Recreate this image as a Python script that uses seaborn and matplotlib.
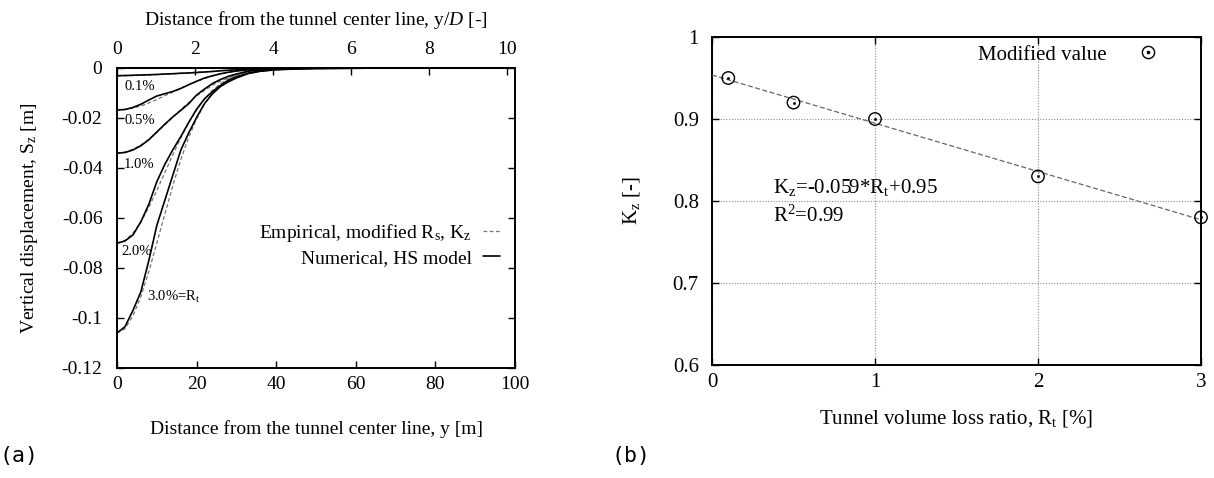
import numpy as np
import matplotlib
matplotlib.use("Agg")
import matplotlib.pyplot as plt
from matplotlib.lines import Line2D
from matplotlib.legend_handler import HandlerTuple
import seaborn as sns

# ---------------------------------------------------------------------------
# (a) Settlement troughs: horizontal distance [m] and vertical displacement [m]
# ---------------------------------------------------------------------------
dist_m = [0, 2, 4, 6, 8, 10, 12, 14, 16, 18, 20, 22, 24, 26, 28, 30,
          33, 36, 40, 45, 50, 60, 70, 80, 90, 100]

# Numerical results, HS model
num_01 = [-0.0031, -0.0030, -0.0029, -0.0028, -0.0027, -0.0026, -0.0024, -0.0023,
          -0.0021, -0.0020, -0.0018, -0.0016, -0.0014, -0.0011, -0.0009, -0.0007,
          -0.0005, -0.0003, -0.0002, -0.0001, 0, 0, 0, 0, 0, 0]
num_05 = [-0.0168, -0.0166, -0.0158, -0.0145, -0.0128, -0.0112, -0.0103, -0.0094,
          -0.0082, -0.0067, -0.0053, -0.0040, -0.0031, -0.0023, -0.0017, -0.0012,
          -0.0007, -0.0004, -0.0002, -0.0001, 0, 0, 0, 0, 0, 0]
num_10 = [-0.0341, -0.0338, -0.0328, -0.0311, -0.0287, -0.0256, -0.0225, -0.0196,
          -0.0170, -0.0143, -0.0108, -0.0084, -0.0062, -0.0046, -0.0033, -0.0024,
          -0.0013, -0.0007, -0.0004, -0.0002, -0.0001, 0, 0, 0, 0, 0]
num_20 = [-0.0701, -0.0692, -0.0668, -0.0615, -0.0545, -0.0455, -0.0386, -0.0328,
          -0.0275, -0.0218, -0.0165, -0.0123, -0.0094, -0.0070, -0.0049, -0.0035,
          -0.0021, -0.0012, -0.0006, -0.0003, -0.0002, -0.0001, 0, 0, 0, 0]
num_30 = [-0.1060, -0.1035, -0.0970, -0.0895, -0.0770, -0.0630, -0.0530, -0.0430,
          -0.0330, -0.0260, -0.0198, -0.0142, -0.0103, -0.0074, -0.0055, -0.0040,
          -0.0022, -0.0013, -0.0007, -0.0004, -0.0002, -0.0001, 0, 0, 0, 0]

# Empirical troughs with modified R_s and K_z
emp_01 = [-0.0031, -0.0031, -0.0030, -0.0029, -0.0028, -0.0026, -0.0025, -0.0023,
          -0.0021, -0.0019, -0.0017, -0.0015, -0.0013, -0.0011, -0.0009, -0.0008,
          -0.0006, -0.0004, -0.0002, -0.0001, 0, 0, 0, 0, 0, 0]
emp_05 = [-0.0168, -0.0166, -0.0160, -0.0152, -0.0140, -0.0126, -0.0111, -0.0096,
          -0.0081, -0.0067, -0.0054, -0.0042, -0.0032, -0.0024, -0.0018, -0.0013,
          -0.0007, -0.0004, -0.0002, -0.0001, 0, 0, 0, 0, 0, 0]
emp_10 = [-0.0340, -0.0336, -0.0325, -0.0308, -0.0285, -0.0258, -0.0228, -0.0197,
          -0.0167, -0.0138, -0.0112, -0.0089, -0.0069, -0.0052, -0.0039, -0.0028,
          -0.0017, -0.0009, -0.0004, -0.0001, 0, 0, 0, 0, 0, 0]
emp_20 = [-0.0700, -0.0690, -0.0661, -0.0616, -0.0557, -0.0490, -0.0419, -0.0348,
          -0.0281, -0.0220, -0.0168, -0.0124, -0.0089, -0.0063, -0.0043, -0.0028,
          -0.0014, -0.0007, -0.0002, 0, 0, 0, 0, 0, 0, 0]
emp_30 = [-0.1060, -0.1043, -0.0992, -0.0914, -0.0814, -0.0701, -0.0585, -0.0472,
          -0.0368, -0.0278, -0.0203, -0.0143, -0.0098, -0.0065, -0.0042, -0.0026,
          -0.0012, -0.0005, -0.0002, 0, 0, 0, 0, 0, 0, 0]

trough_names = ["0.1%", "0.5%", "1.0%", "2.0%", "3.0%=R$_{\\rm t}$"]
tunnel_diameter = 9.8  # m

sz_ticks = [-0.12, -0.10, -0.08, -0.06, -0.04, -0.02, 0.0]
sz_tick_labels = ["-0.12", "-0.1", "-0.08", "-0.06", "-0.04", "-0.02", "0"]
dist_ticks = [0, 20, 40, 60, 80, 100]
yd_ticks = [0, 2, 4, 6, 8, 10]

# ---------------------------------------------------------------------------
# (b) Modified K_z against tunnel volume loss ratio
# ---------------------------------------------------------------------------
rt_percent = [0.1, 0.5, 1.0, 2.0, 3.0]
kz_modified = [0.95, 0.92, 0.90, 0.83, 0.78]
r_squared = 0.99
kz_ticks = [0.6, 0.7, 0.8, 0.9, 1.0]
kz_tick_labels = ["0.6", "0.7", "0.8", "0.9", "1"]
rt_ticks = [0, 1, 2, 3]

# ---------------------------------------------------------------------------
FS_A = 14.0   # text size, panel (a)
FS_B = 15.0   # text size, panel (b)

sns.set_theme(style="ticks")
plt.rcParams.update({
    "font.family": ["Liberation Serif", "DejaVu Serif"],
    "mathtext.fontset": "custom",
    "mathtext.rm": "Liberation Serif",
    "mathtext.it": "Liberation Serif:italic",
    "font.size": FS_A,
    "axes.labelsize": FS_A,
    "xtick.labelsize": FS_A,
    "ytick.labelsize": FS_A,
    "legend.fontsize": FS_A,
    "axes.linewidth": 1.4,
    "axes.edgecolor": "black",
    "xtick.color": "black",
    "ytick.color": "black",
    "text.color": "black",
    "axes.labelcolor": "black",
    "xtick.direction": "in",
    "ytick.direction": "in",
    "xtick.major.size": 5,
    "ytick.major.size": 5,
    "xtick.major.width": 1.0,
    "ytick.major.width": 1.0,
    "xtick.major.pad": 6,
    "ytick.major.pad": 10.5,
})

fig = plt.figure(figsize=(12.14, 4.78), dpi=100)
W, H = 1214, 478
ax1 = fig.add_axes([117 / W, 110 / H, 398 / W, 300 / H])
ax2 = fig.add_axes([712 / W, 113 / H, 489 / W, 328 / H])

# ----- panel (a) -----
numerical = [num_01, num_05, num_10, num_20, num_30]
empirical = [emp_01, emp_05, emp_10, emp_20, emp_30]
dash_style = (0, (3, 2))
for emp, num in zip(empirical, numerical):
    sns.lineplot(x=dist_m, y=emp, ax=ax1, color="0.45", linewidth=0.9,
                 linestyle=dash_style, sort=False, zorder=2)
    sns.lineplot(x=dist_m, y=num, ax=ax1, color="black", linewidth=1.2,
                 sort=False, zorder=3)

label_pos = [(1.8, -0.0072), (1.8, -0.0212), (1.8, -0.0384), (1.0, -0.0735), (7.6, -0.0915)]
for name, (lx, ly) in zip(trough_names, label_pos):
    ax1.text(lx, ly, name, fontsize=10.5, ha="left", va="center", zorder=4)

ax1.set_xlim(0, 100)
ax1.set_ylim(-0.12, 0)
ax1.set_xticks(dist_ticks)
ax1.set_yticks(sz_ticks)
ax1.set_yticklabels(sz_tick_labels)
ax1.tick_params(axis="y", right=True, labelright=False)
ax1.tick_params(axis="x", top=False)
ax1.set_xlabel("Distance from the tunnel center line, y [m]", labelpad=19)
ax1.set_ylabel("Vertical displacement, S$_{\\rm z}$ [m]", labelpad=15.5)

secax = ax1.secondary_xaxis("top", functions=(lambda y: y / tunnel_diameter,
                                              lambda r: r * tunnel_diameter))
secax.set_xticks(yd_ticks)
secax.tick_params(direction="in", length=5, width=1.0, pad=7)
secax.set_xlabel("Distance from the tunnel center line, y/$D$ [-]", labelpad=12)

legend_handles = [
    Line2D([], [], color="0.45", linewidth=0.9, linestyle=dash_style),
    Line2D([], [], color="black", linewidth=1.2),
]
ax1.legend(legend_handles,
           ["Empirical, modified R$_{\\rm s}$, K$_{\\rm z}$", "Numerical, HS model"],
           loc="upper right", bbox_to_anchor=(0.962, 0.487), frameon=False,
           markerfirst=False, handlelength=0.88, handletextpad=0.57,
           borderpad=0, borderaxespad=0, labelspacing=0.28)

# ----- panel (b) -----
ax2.set_xlim(0, 3)
ax2.set_ylim(0.6, 1.0)
sns.regplot(x=rt_percent, y=kz_modified, ax=ax2, scatter=False, ci=None,
            truncate=False, line_kws=dict(color="0.4", linewidth=0.9,
                                          linestyle=(0, (4, 2)), zorder=3))
slope, intercept = np.polyfit(rt_percent, kz_modified, 1)
sns.scatterplot(x=rt_percent, y=kz_modified, ax=ax2, marker="o", s=80,
                facecolors="none", edgecolor="black", linewidth=1.0, zorder=5,
                clip_on=False)
sns.scatterplot(x=rt_percent, y=kz_modified, ax=ax2, marker="o", s=3,
                color="black", edgecolor="black", linewidth=0.3, zorder=6,
                clip_on=False)
ax2.set_xlim(0, 3)
ax2.set_ylim(0.6, 1.0)
ax2.set_xticks(rt_ticks)
ax2.set_yticks(kz_ticks)
ax2.set_yticklabels(kz_tick_labels)
ax2.tick_params(top=True, right=True, labelsize=FS_B)
ax2.tick_params(axis="y", pad=9.5)
ax2.grid(True, color="0.55", linewidth=0.8, linestyle=(0, (1, 1.5)))
ax2.set_axisbelow(True)
ax2.set_xlabel("Tunnel volume loss ratio, R$_{\\rm t}$ [%]", fontsize=FS_B, labelpad=11)
ax2.set_ylabel("K$_{\\rm z}$ [-]", fontsize=FS_B, labelpad=22)

ax2.text(0.375, 0.817,
         f"K$_{{\\rm z}}$={slope:.3f}*R$_{{\\rm t}}$+{intercept:.2f}",
         fontsize=FS_B, ha="left", va="center")
ax2.text(0.375, 0.782, f"R$^2$={r_squared:.2f}", fontsize=FS_B, ha="left", va="center")

point_handle = (Line2D([], [], marker="o", linestyle="none", markerfacecolor="none",
                       markeredgecolor="black", markersize=8.8, markeredgewidth=1.0),
                Line2D([], [], marker="o", linestyle="none", color="black",
                       markersize=1.6))
ax2.legend([point_handle], ["Modified value"],
           handler_map={tuple: HandlerTuple(ndivide=1, pad=0)},
           loc="upper right", bbox_to_anchor=(0.935, 0.975), frameon=False,
           markerfirst=False, handlelength=2.0, handletextpad=1.0,
           borderpad=0, borderaxespad=0, fontsize=FS_B)

# panel tags
fig.text(0.0, 22 / H, "(a)", family="DejaVu Sans Mono", fontsize=15.5, va="center")
fig.text(612 / W, 22 / H, "(b)", family="DejaVu Sans Mono", fontsize=15.5, va="center")

fig.savefig("out.png", dpi=100)
